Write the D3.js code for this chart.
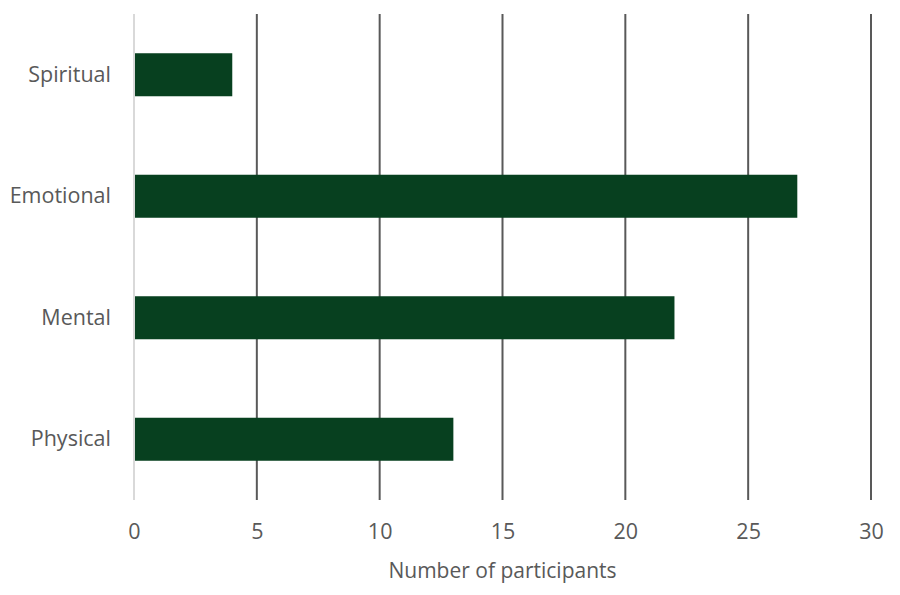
<!DOCTYPE html>
<html>
<head>
<meta charset="utf-8">
<script src="https://cdn.jsdelivr.net/npm/d3@7"></script>
<style>
  body { margin: 0; background: #fff; }
  text { font-family: "Open Sans", "Noto Sans", sans-serif; fill: #595959; }
</style>
</head>
<body>
<div id="chart"></div>
<script>
// data
var categories = ["Spiritual", "Emotional", "Mental", "Physical"];
var participants = [4, 27, 22, 13];
var xTicks = [0, 5, 10, 15, 20, 25, 30];

var width = 900, height = 595;
var margin = { top: 14, right: 29, bottom: 95, left: 134 };
var innerW = width - margin.left - margin.right,
    innerH = height - margin.top - margin.bottom;

var svg = d3.select("#chart").append("svg")
    .attr("width", width)
    .attr("height", height);

var g = svg.append("g")
    .attr("transform", "translate(" + margin.left + "," + margin.top + ")");

var xScale = d3.scaleLinear()
    .domain([0, 30])
    .range([0, innerW]);

var yScale = d3.scaleBand()
    .domain(categories)
    .range([0, innerH])
    .paddingInner(0.646)
    .paddingOuter(0.323);

// gridlines
g.selectAll("line.grid")
    .data(xTicks.filter(d => d > 0))
    .enter()
    .append("line")
    .attr("class", "grid")
    .attr("x1", d => xScale(d))
    .attr("x2", d => xScale(d))
    .attr("y1", 0)
    .attr("y2", innerH)
    .attr("stroke", "#595959")
    .attr("stroke-width", 2);

// bars
g.selectAll("rect")
    .data(categories)
    .enter()
    .append("rect")
    .attr("x", 0)
    .attr("y", d => yScale(d))
    .attr("width", (d, i) => xScale(participants[i]))
    .attr("height", yScale.bandwidth())
    .attr("fill", "#07401f");

// vertical axis line
g.append("line")
    .attr("x1", 0).attr("x2", 0)
    .attr("y1", 0).attr("y2", innerH)
    .attr("stroke", "#d9d9d9")
    .attr("stroke-width", 2);

// y labels
var yAxis = d3.axisLeft(yScale).tickSize(0).tickPadding(23);
var yG = g.append("g").call(yAxis);
yG.select(".domain").remove();
yG.selectAll("text")
    .style("font-size", "21.5px")
    .attr("fill", "#595959");

// x labels
var xAxis = d3.axisBottom(xScale).tickValues(xTicks).tickSize(0).tickPadding(24);
var xG = g.append("g")
    .attr("transform", "translate(0," + innerH + ")")
    .call(xAxis);
xG.select(".domain").remove();
xG.selectAll("text")
    .style("font-size", "21.5px")
    .attr("fill", "#595959");

// x title
svg.append("text")
    .attr("x", margin.left + innerW / 2)
    .attr("y", 578)
    .style("text-anchor", "middle")
    .style("font-size", "21px")
    .text("Number of participants");
</script>
</body>
</html>
